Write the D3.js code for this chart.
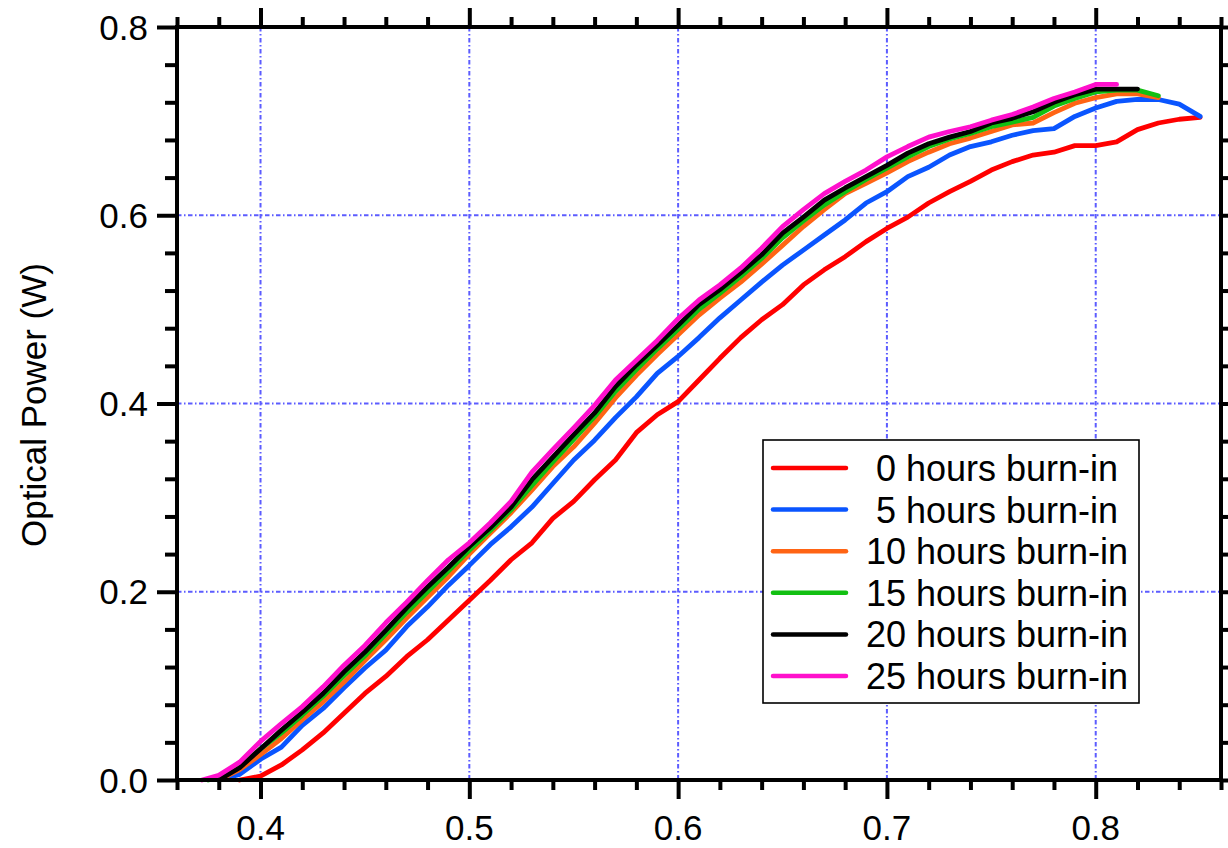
<!DOCTYPE html>
<html><head><meta charset="utf-8">
<script src="https://cdn.jsdelivr.net/npm/d3@7"></script>
<style>body{margin:0;background:#fff}svg{display:block}text{font-family:"Liberation Sans",Arial,sans-serif}</style>
</head><body><svg id="c" width="1228" height="848"></svg>
<script>
const xTickLabels = ["0.4","0.5","0.6","0.7","0.8"];
const yTickLabels = ["0.0","0.2","0.4","0.6","0.8"];
const seriesNames = ["0 hours burn-in","5 hours burn-in","10 hours burn-in","15 hours burn-in","20 hours burn-in","25 hours burn-in"];
const seriesColors = ["#ff0000","#0a55ff","#ff6414","#12c012","#000000","#ff10cc"];

const xRed = [0.39,0.40,0.41,0.42,0.43,0.44,0.45,0.46,0.47,0.48,0.49,0.50,0.51,0.52,0.53,0.54,0.55,0.56,0.57,0.58,0.59,0.60,0.61,0.62,0.63,0.64,0.65,0.66,0.67,0.68,0.69,0.70,0.71,0.72,0.73,0.74,0.75,0.76,0.77,0.78,0.79,0.80,0.81,0.82,0.83,0.84,0.85];
const yRed = [0.000,0.004,0.016,0.032,0.050,0.071,0.092,0.110,0.131,0.149,0.170,0.191,0.212,0.234,0.252,0.278,0.296,0.319,0.340,0.369,0.388,0.402,0.425,0.448,0.470,0.489,0.505,0.526,0.542,0.556,0.572,0.586,0.598,0.613,0.625,0.636,0.648,0.657,0.664,0.667,0.674,0.674,0.678,0.691,0.698,0.702,0.704];

const xBlue = [0.38,0.39,0.40,0.41,0.42,0.43,0.44,0.45,0.46,0.47,0.48,0.49,0.50,0.51,0.52,0.53,0.54,0.55,0.56,0.57,0.58,0.59,0.60,0.61,0.62,0.63,0.64,0.65,0.66,0.67,0.68,0.69,0.70,0.71,0.72,0.73,0.74,0.75,0.76,0.77,0.78,0.79,0.80,0.81,0.82,0.83,0.84,0.85];
const yBlue = [0.000,0.006,0.022,0.035,0.058,0.076,0.098,0.119,0.138,0.163,0.184,0.207,0.228,0.250,0.269,0.290,0.315,0.340,0.361,0.385,0.407,0.432,0.450,0.470,0.491,0.510,0.529,0.547,0.563,0.579,0.595,0.613,0.625,0.641,0.651,0.664,0.673,0.678,0.685,0.690,0.692,0.705,0.714,0.721,0.723,0.723,0.718,0.705];

const xOrange = [0.38,0.39,0.40,0.41,0.42,0.43,0.44,0.45,0.46,0.47,0.48,0.49,0.50,0.51,0.52,0.53,0.54,0.55,0.56,0.57,0.58,0.59,0.60,0.61,0.62,0.63,0.64,0.65,0.66,0.67,0.68,0.69,0.70,0.71,0.72,0.73,0.74,0.75,0.76,0.77,0.78,0.79,0.80,0.81,0.82,0.83];
const yOrange = [0.000,0.011,0.027,0.044,0.064,0.083,0.104,0.127,0.149,0.172,0.194,0.216,0.240,0.262,0.284,0.308,0.333,0.354,0.379,0.406,0.430,0.452,0.473,0.494,0.512,0.529,0.548,0.568,0.588,0.606,0.623,0.634,0.645,0.657,0.667,0.676,0.682,0.689,0.696,0.698,0.709,0.719,0.725,0.729,0.729,0.725];

const xGreen = [0.375,0.38,0.39,0.40,0.41,0.42,0.43,0.44,0.45,0.46,0.47,0.48,0.49,0.50,0.51,0.52,0.53,0.54,0.55,0.56,0.57,0.58,0.59,0.60,0.61,0.62,0.63,0.64,0.65,0.66,0.67,0.68,0.69,0.70,0.71,0.72,0.73,0.74,0.75,0.76,0.77,0.78,0.79,0.80,0.81,0.82,0.83];
const yGreen = [0.000,0.002,0.015,0.033,0.050,0.069,0.089,0.111,0.132,0.155,0.178,0.200,0.222,0.244,0.265,0.287,0.313,0.338,0.362,0.386,0.413,0.436,0.458,0.479,0.500,0.517,0.535,0.554,0.576,0.594,0.611,0.625,0.638,0.650,0.662,0.673,0.681,0.687,0.694,0.699,0.704,0.716,0.724,0.731,0.733,0.733,0.727];

const xBlack = [0.38,0.39,0.40,0.41,0.42,0.43,0.44,0.45,0.46,0.47,0.48,0.49,0.50,0.51,0.52,0.53,0.54,0.55,0.56,0.57,0.58,0.59,0.60,0.61,0.62,0.63,0.64,0.65,0.66,0.67,0.68,0.69,0.70,0.71,0.72,0.73,0.74,0.75,0.76,0.77,0.78,0.79,0.80,0.81,0.82];
const yBlack = [0.000,0.013,0.033,0.053,0.072,0.092,0.115,0.136,0.159,0.183,0.205,0.226,0.248,0.268,0.290,0.319,0.343,0.367,0.390,0.418,0.441,0.462,0.483,0.505,0.521,0.539,0.558,0.581,0.598,0.616,0.629,0.641,0.653,0.666,0.676,0.683,0.689,0.698,0.703,0.710,0.720,0.728,0.734,0.734,0.734];

const xPink = [0.372,0.38,0.39,0.40,0.41,0.42,0.43,0.44,0.45,0.46,0.47,0.48,0.49,0.50,0.51,0.52,0.53,0.54,0.55,0.56,0.57,0.58,0.59,0.60,0.61,0.62,0.63,0.64,0.65,0.66,0.67,0.68,0.69,0.70,0.71,0.72,0.73,0.74,0.75,0.76,0.77,0.78,0.79,0.80,0.81];
const yPink = [0.000,0.005,0.019,0.041,0.060,0.078,0.099,0.122,0.143,0.167,0.189,0.212,0.234,0.252,0.273,0.296,0.327,0.351,0.374,0.398,0.425,0.446,0.467,0.490,0.510,0.526,0.544,0.565,0.588,0.606,0.623,0.636,0.648,0.662,0.673,0.683,0.689,0.694,0.701,0.707,0.715,0.724,0.731,0.739,0.739];

const seriesX = [xRed,xBlue,xOrange,xGreen,xBlack,xPink];
const seriesY = [yRed,yBlue,yOrange,yGreen,yBlack,yPink];

const svg = d3.select("#c");
const L=177, R=1221, T=27, B=780;
const x = d3.scaleLinear().domain([0.36,0.86]).range([L,R]);
const y = d3.scaleLinear().domain([0,0.8]).range([B,T]);
const xMajor = xTickLabels.map(Number), yMajor = yTickLabels.map(Number);
const xMinor = d3.range(0.36,0.8601,0.02).map(v=>+v.toFixed(2)).filter(v=>!xMajor.some(m=>Math.abs(m-v)<1e-6));
const yMinor = d3.range(0,0.8001,0.04).map(v=>+v.toFixed(2)).filter(v=>!yMajor.some(m=>Math.abs(m-v)<1e-6));

// grid
const grid = svg.append("g").attr("stroke","#5c5cff").attr("stroke-width",2).attr("stroke-dasharray","4.5,2.5,1.5,2.5").attr("fill","none");
xMajor.forEach(v=>grid.append("line").attr("x1",x(v)).attr("x2",x(v)).attr("y1",T).attr("y2",B));
yMajor.filter(v=>v>0&&v<0.8).forEach(v=>grid.append("line").attr("x1",L).attr("x2",R).attr("y1",y(v)).attr("y2",y(v)));

// lines
const line = d3.line().x(d=>x(d[0])).y(d=>y(d[1]));
seriesX.forEach((xs,i)=>{
  const pts = xs.map((v,j)=>[v,seriesY[i][j]]);
  svg.append("path").datum(pts).attr("d",line).attr("fill","none")
    .attr("stroke",seriesColors[i]).attr("stroke-width",4.8)
    .attr("stroke-linejoin","round").attr("stroke-linecap","round");
});

// axes
function styleAxis(g){ g.select(".domain").remove(); g.selectAll("line").attr("stroke","#000").attr("stroke-width",4); g.selectAll("text").remove(); }
svg.append("g").attr("transform",`translate(0,${B})`).call(d3.axisBottom(x).tickValues(xMajor).tickSize(19)).call(styleAxis);
svg.append("g").attr("transform",`translate(0,${B})`).call(d3.axisBottom(x).tickValues(xMinor).tickSize(10)).call(styleAxis);
svg.append("g").attr("transform",`translate(0,${T})`).call(d3.axisTop(x).tickValues(xMajor).tickSize(19)).call(styleAxis);
svg.append("g").attr("transform",`translate(0,${T})`).call(d3.axisTop(x).tickValues(xMinor).tickSize(10)).call(styleAxis);
svg.append("g").attr("transform",`translate(${L},0)`).call(d3.axisLeft(y).tickValues(yMajor).tickSize(20)).call(styleAxis);
svg.append("g").attr("transform",`translate(${L},0)`).call(d3.axisLeft(y).tickValues(yMinor).tickSize(12)).call(styleAxis);
svg.append("g").attr("transform",`translate(${R},0)`).call(d3.axisRight(y).tickValues(yMajor).tickSize(20)).call(styleAxis);
svg.append("g").attr("transform",`translate(${R},0)`).call(d3.axisRight(y).tickValues(yMinor).tickSize(12)).call(styleAxis);
svg.append("rect").attr("x",L).attr("y",T).attr("width",R-L).attr("height",B-T).attr("fill","none").attr("stroke","#000").attr("stroke-width",4);

// tick labels
svg.append("g").selectAll("text").data(xTickLabels).join("text")
  .attr("x",d=>x(+d)).attr("y",840).attr("text-anchor","middle").attr("font-size",35).attr("fill","#000").text(d=>d);
svg.append("g").selectAll("text").data(yTickLabels).join("text")
  .attr("x",148).attr("y",d=>y(+d)).attr("dy","0.36em").attr("text-anchor","end").attr("font-size",35).attr("fill","#000").text(d=>d);

// y title
svg.append("text").attr("transform","translate(46,405) rotate(-90)").attr("text-anchor","middle")
  .attr("font-size",35).attr("fill","#000").text("Optical Power (W)");

// legend
const lg = svg.append("g");
lg.append("rect").attr("x",763).attr("y",440).attr("width",376).attr("height",263).attr("fill","#fff").attr("stroke","#000").attr("stroke-width",1.6);
seriesNames.forEach((n,i)=>{
  const yy = 468 + i*41.6;
  lg.append("line").attr("x1",773).attr("x2",846).attr("y1",yy).attr("y2",yy).attr("stroke",seriesColors[i]).attr("stroke-width",4.5).attr("stroke-linecap","round");
  lg.append("text").attr("x",997).attr("y",yy).attr("dy","0.36em").attr("text-anchor","middle").attr("font-size",36).attr("fill","#000").text(n);
});
</script></body></html>
